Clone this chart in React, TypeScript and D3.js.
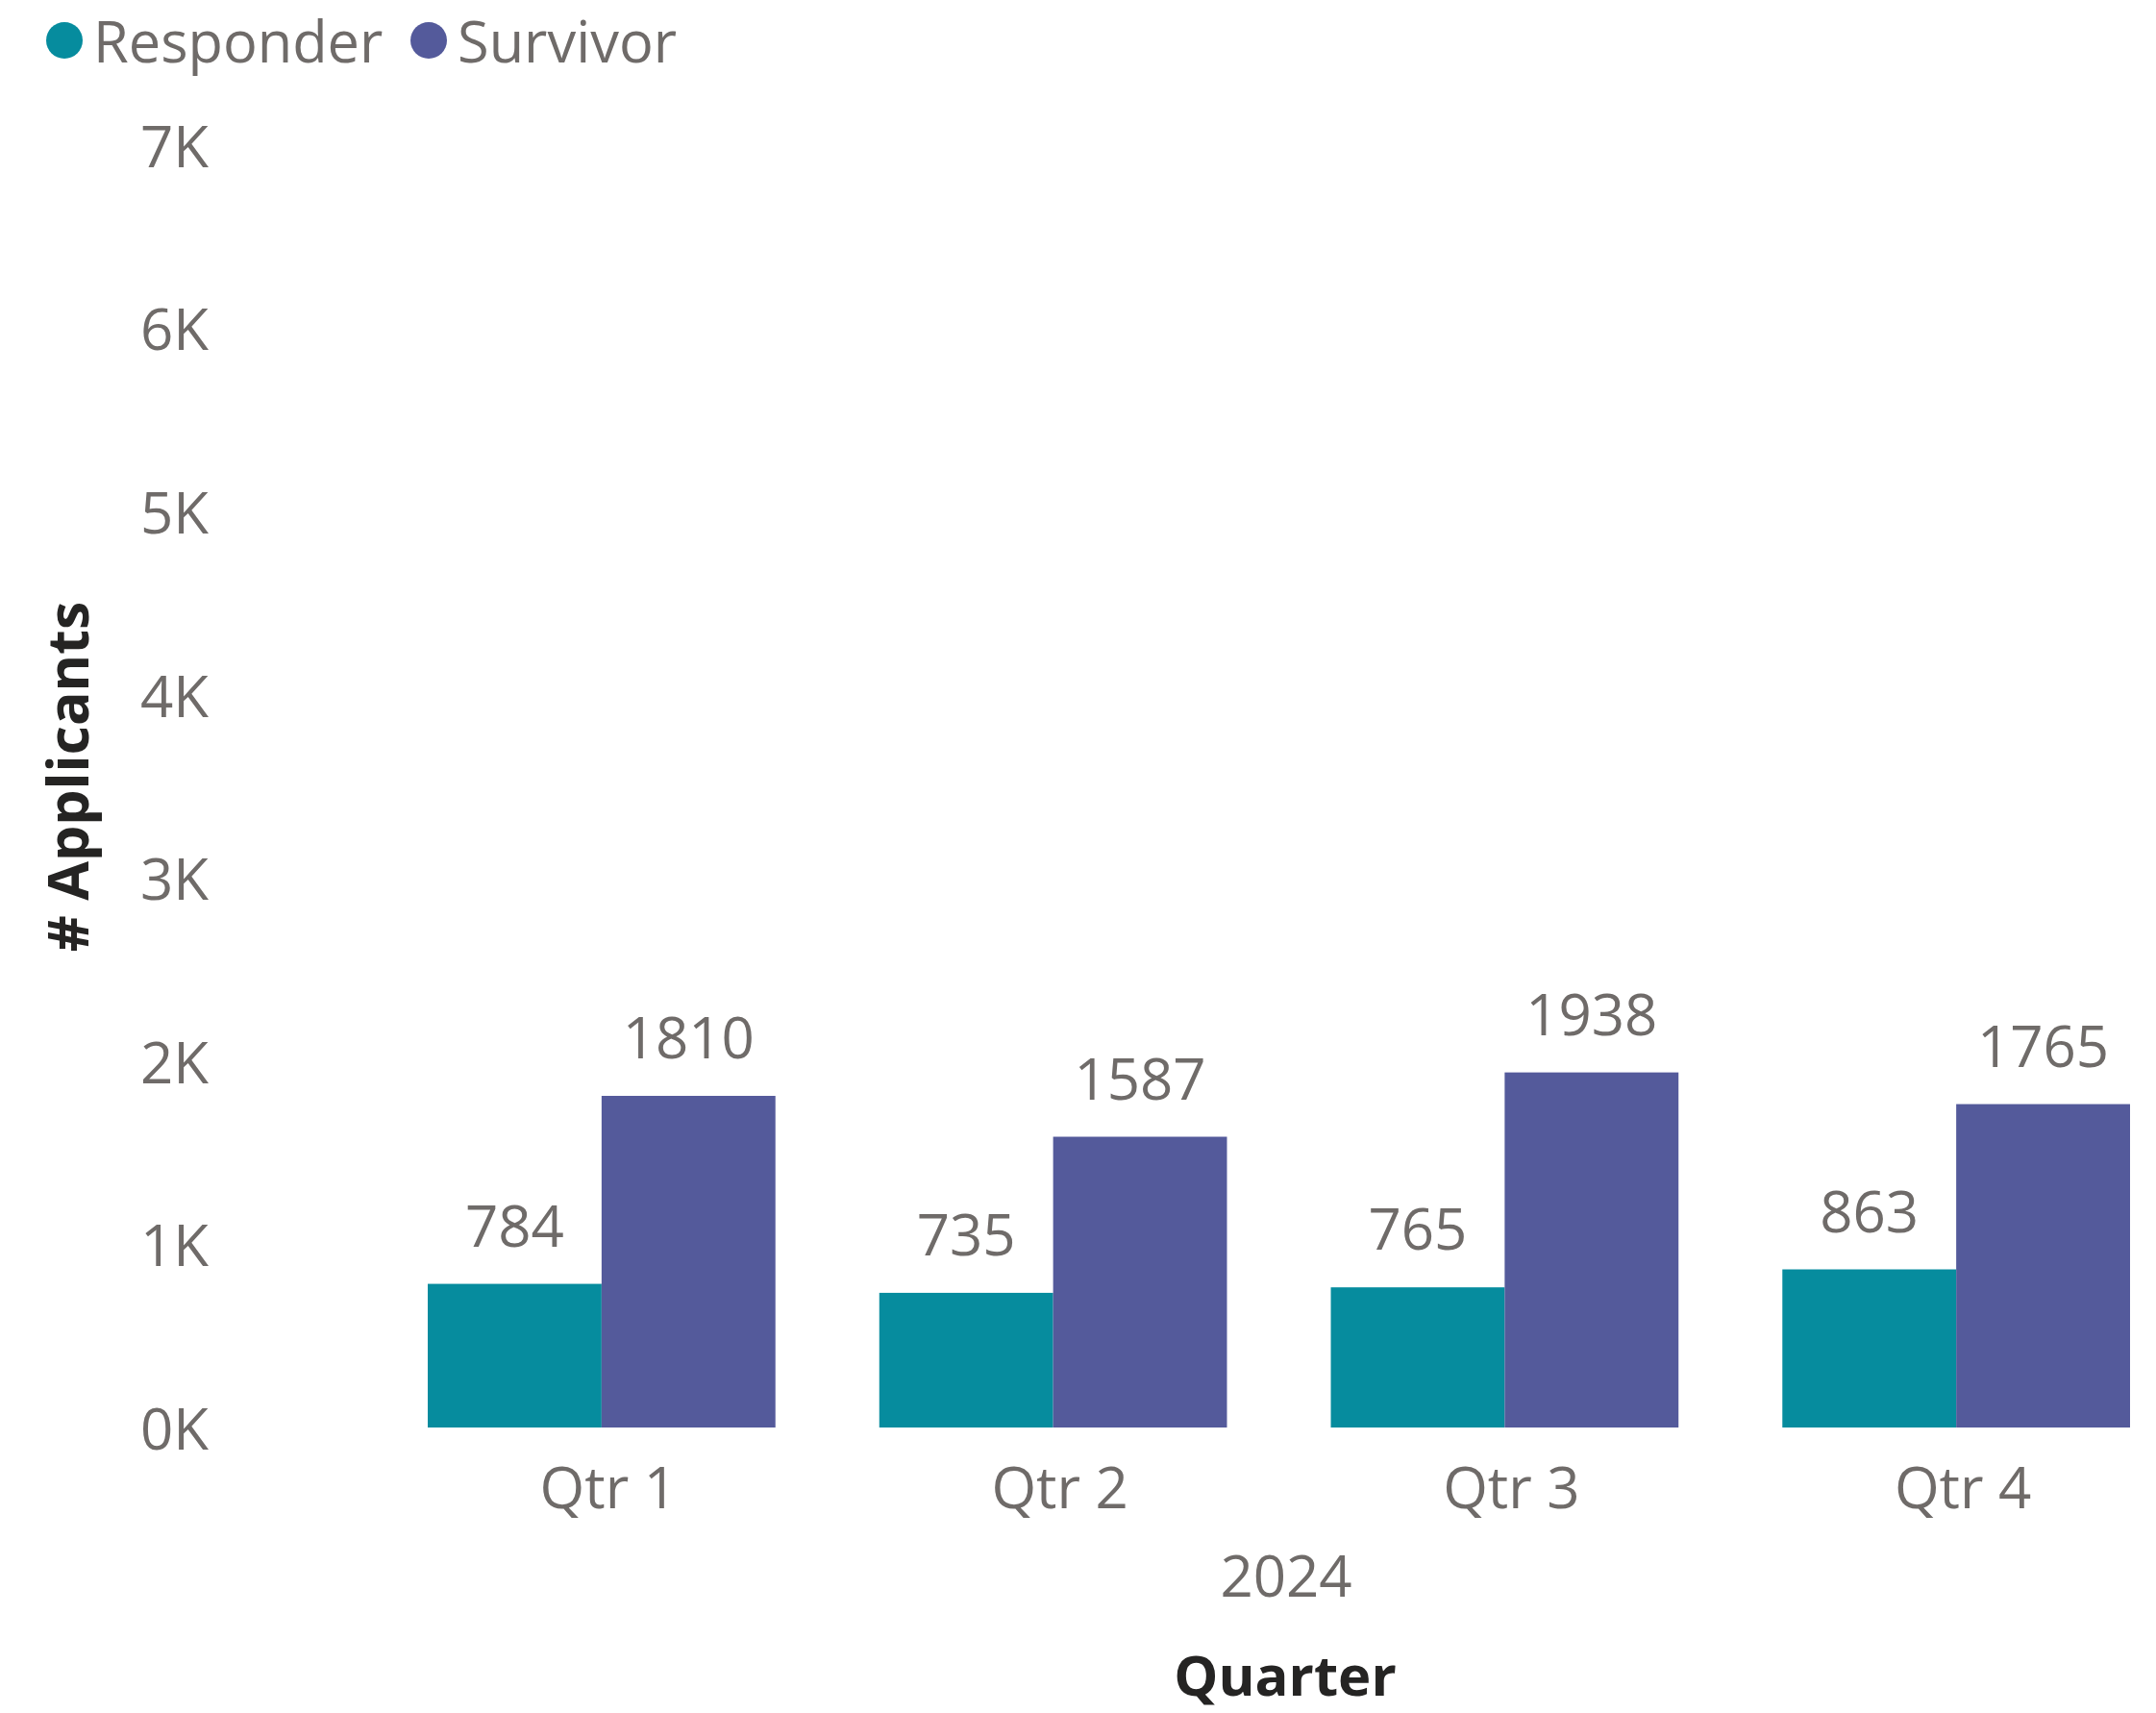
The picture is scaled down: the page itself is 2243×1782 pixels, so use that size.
import React, { useEffect, useRef } from 'react';
import * as d3 from 'd3';

const quarters = ['Qtr 1', 'Qtr 2', 'Qtr 3', 'Qtr 4'];
const seriesNames = ['Responder', 'Survivor'];
const responder = [784, 735, 765, 863];
const survivor = [1810, 1587, 1938, 1765];
const yTicks = [0, 1000, 2000, 3000, 4000, 5000, 6000, 7000];
const yearLabel = '2024';

const colors = ['#068C9E', '#545A9B'];
const grey = '#6F6B69';
const dark = '#252423';
const font = '"Segoe UI", "Open Sans", sans-serif';

function App() {
  const ref = useRef<SVGSVGElement | null>(null);

  useEffect(() => {
    document.body.style.margin = '0';
    if (!ref.current) return;
    const svg = d3.select(ref.current);
    svg.selectAll('*').remove();

    const y = d3.scaleLinear().domain([0, 7000]).range([1485, 150.8]);
    const x0 = d3.scaleBand().domain(quarters).range([445, 2216]).paddingInner(0.23).paddingOuter(0);
    const x1 = d3.scaleBand().domain(seriesNames).range([0, x0.bandwidth()]).padding(0);

    const rows = quarters.map((q, i) => ({ q, vals: [responder[i], survivor[i]] }));

    // legend
    const legendX = [67, 446];
    seriesNames.forEach((name, i) => {
      svg.append('circle').attr('cx', legendX[i]).attr('cy', 42).attr('r', 19).attr('fill', colors[i]);
      svg.append('text')
        .attr('x', legendX[i] + 30)
        .attr('y', 65)
        .attr('fill', grey)
        .attr('font-family', font)
        .attr('font-size', 59.5)
        .text(name);
    });

    // y tick labels
    svg.append('g').selectAll('text')
      .data(yTicks)
      .enter()
      .append('text')
      .attr('x', 217)
      .attr('y', d => y(d) + 2)
      .attr('dy', '0.35em')
      .attr('text-anchor', 'end')
      .attr('fill', grey)
      .attr('font-family', font)
      .attr('font-size', 60)
      .text(d => `${d / 1000}K`);

    // bars + labels
    const groups = svg.append('g').selectAll('g')
      .data(rows)
      .enter()
      .append('g')
      .attr('transform', d => `translate(${x0(d.q)},0)`);

    groups.selectAll('rect')
      .data(d => d.vals.map((v, i) => ({ v, s: seriesNames[i], i })))
      .enter()
      .append('rect')
      .attr('x', d => x1(d.s) as number)
      .attr('y', d => y(d.v))
      .attr('width', x1.bandwidth())
      .attr('height', d => y(0) - y(d.v))
      .attr('fill', d => colors[d.i]);

    groups.selectAll('text')
      .data(d => d.vals.map((v, i) => ({ v, s: seriesNames[i] })))
      .enter()
      .append('text')
      .attr('x', d => (x1(d.s) as number) + x1.bandwidth() / 2)
      .attr('y', d => y(d.v) - 39)
      .attr('text-anchor', 'middle')
      .attr('fill', grey)
      .attr('font-family', font)
      .attr('font-size', 60)
      .text(d => String(d.v));

    // x tick labels
    svg.append('g').selectAll('text')
      .data(quarters)
      .enter()
      .append('text')
      .attr('x', d => (x0(d) as number) + x0.bandwidth() / 2 + 7)
      .attr('y', 1569)
      .attr('text-anchor', 'middle')
      .attr('fill', grey)
      .attr('font-family', font)
      .attr('font-size', 60)
      .text(d => d);

    svg.append('text')
      .attr('x', 1338)
      .attr('y', 1661)
      .attr('text-anchor', 'middle')
      .attr('fill', grey)
      .attr('font-family', font)
      .attr('font-size', 60)
      .text(yearLabel);

    // axis titles
    svg.append('text')
      .attr('x', 1337)
      .attr('y', 1764)
      .attr('text-anchor', 'middle')
      .attr('fill', dark)
      .attr('font-family', font)
      .attr('font-weight', 'bold')
      .attr('font-size', 58)
      .text('Quarter');

    svg.append('text')
      .attr('transform', 'translate(92,808) rotate(-90)')
      .attr('text-anchor', 'middle')
      .attr('fill', dark)
      .attr('font-family', font)
      .attr('font-weight', 'bold')
      .attr('font-size', 59)
      .text('# Applicants');
  }, []);

  return (
    <svg ref={ref} width={2243} height={1782} style={{ display: 'block', background: '#fff' }} />
  );
}

export default App;
